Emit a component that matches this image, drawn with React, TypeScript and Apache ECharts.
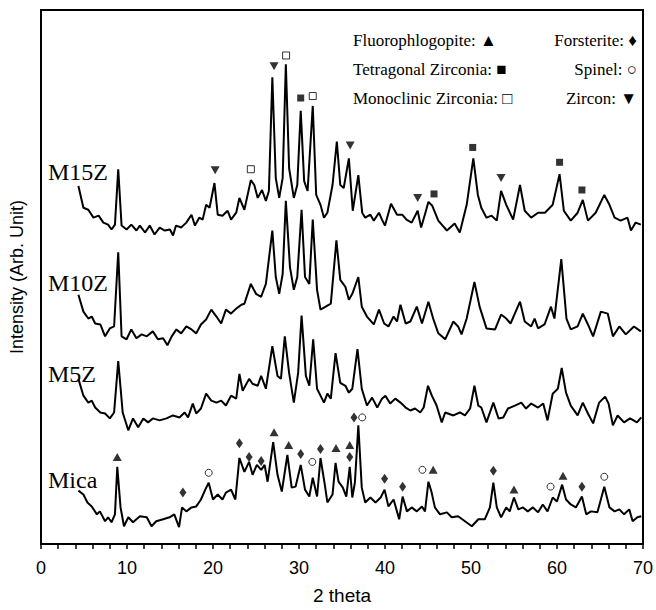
import React, { useEffect, useRef } from "react";
import * as echarts from "echarts";

// 2θ (deg) vs intensity (arbitrary units, curves offset for stacking)
const m15zData: number[][] = [
  [4.35,362],[4.93,340],[5.5,338],[6.1,330],[6.7,332],[7.25,325],[7.8,323],[8.2,318],[8.6,323],[8.98,379],[9.37,322],[9.95,318],[10.5,323],[11.1,317],[11.5,322],[12.1,315],[12.65,322],[13.2,313],[13.8,320],[14.4,317],[15.0,318],[15.35,312],[15.7,322],[16.3,320],[16.9,325],[17.5,333],[17.9,322],[18.4,330],[18.8,328],[19.2,343],[19.6,340],[20.17,365],[20.55,333],[21.1,332],[21.7,337],[22.1,328],[22.7,335],[23.07,350],[23.65,338],[24.4,368],[24.8,363],[25.2,350],[25.7,358],[26.15,347],[26.5,357],[26.9,472],[27.3,370],[27.7,350],[28.1,370],[28.47,485],[28.85,380],[29.4,350],[29.8,363],[30.2,438],[30.6,367],[31.0,357],[31.6,443],[32.0,353],[32.5,343],[32.9,330],[33.3,335],[33.9,363],[34.4,407],[34.8,363],[35.2,360],[35.8,390],[36.25,337],[36.9,373],[37.35,335],[37.7,330],[38.3,333],[38.7,327],[39.3,335],[39.65,328],[40.0,322],[40.7,344],[41.4,333],[42.0,333],[42.5,328],[43.1,325],[43.8,337],[44.2,320],[44.7,335],[45.05,346],[45.5,342],[46.2,327],[46.6,323],[47.2,317],[48.1,324],[48.7,315],[49.5,343],[50.27,390],[50.8,353],[51.2,340],[51.8,330],[52.4,332],[53.0,327],[53.5,357],[54.1,343],[54.9,328],[55.7,363],[56.25,337],[57.0,330],[57.8,335],[58.6,335],[59.5,343],[60.3,374],[60.8,337],[61.6,327],[62.4,335],[63.0,348],[63.6,327],[64.5,335],[65.5,353],[66.1,343],[66.7,330],[67.4,327],[68.2,330],[68.6,317],[69.15,325],[69.75,323]
];

const m10zData: number[][] = [
  [4.35,252],[4.93,235],[5.5,228],[5.9,230],[6.3,223],[6.9,222],[7.45,210],[8.0,218],[8.5,220],[8.98,295],[9.37,210],[9.95,207],[10.5,217],[11.1,208],[11.7,212],[12.3,210],[13.0,215],[13.6,207],[14.2,208],[14.7,201],[15.2,210],[15.75,217],[16.3,213],[16.9,220],[17.5,217],[18.05,213],[18.6,222],[19.2,227],[19.8,237],[20.4,230],[20.95,223],[21.5,237],[22.1,233],[22.7,238],[23.3,242],[23.65,243],[24.4,263],[25.0,253],[25.6,250],[26.15,263],[26.9,317],[27.3,270],[27.7,253],[28.1,273],[28.47,347],[28.95,280],[29.4,257],[29.8,270],[30.3,338],[30.7,270],[31.2,263],[31.6,328],[32.1,257],[32.5,237],[33.1,240],[33.7,243],[34.35,307],[34.8,267],[35.4,260],[35.8,247],[36.2,253],[36.9,270],[37.3,240],[37.9,230],[38.7,222],[39.3,237],[39.9,223],[40.4,220],[41.0,230],[41.4,225],[41.8,242],[42.4,223],[42.95,225],[43.7,240],[44.3,223],[45.05,245],[45.6,228],[46.2,213],[47.0,207],[47.95,225],[48.5,220],[48.9,212],[49.5,228],[50.4,265],[51.0,240],[51.8,218],[52.8,217],[53.5,232],[54.1,228],[54.6,223],[55.7,245],[56.25,225],[57.0,220],[57.4,228],[57.8,218],[58.55,222],[59.3,240],[59.7,228],[60.5,288],[61.1,228],[61.6,217],[62.4,220],[63.0,233],[63.6,222],[64.2,210],[65.1,235],[65.9,233],[66.5,210],[67.25,220],[68.0,212],[68.95,220],[69.75,215]
];

const m5zData: number[][] = [
  [4.35,167],[4.93,150],[5.5,143],[5.9,145],[6.3,138],[6.9,133],[7.45,132],[8.0,127],[8.5,133],[8.98,185],[9.5,133],[10.15,115],[10.7,127],[11.3,118],[11.9,127],[12.45,123],[13.0,127],[13.8,125],[14.6,127],[15.35,130],[16.1,128],[16.7,133],[17.1,128],[17.65,142],[18.05,132],[18.6,137],[19.2,152],[19.8,145],[20.4,143],[20.95,145],[21.5,140],[22.1,150],[22.7,147],[23.07,172],[23.45,155],[24.2,167],[24.6,162],[25.2,160],[25.6,170],[26.15,157],[26.9,200],[27.5,170],[27.9,167],[28.35,210],[28.85,173],[29.4,143],[29.9,173],[30.3,231],[30.8,170],[31.2,160],[31.65,207],[32.1,157],[32.5,150],[32.9,143],[33.3,152],[33.7,147],[34.25,193],[34.8,163],[35.4,160],[35.8,153],[36.2,157],[36.8,197],[37.3,157],[37.9,140],[38.5,148],[39.1,138],[39.65,147],[40.05,150],[40.6,142],[41.2,147],[41.8,143],[42.4,138],[42.95,135],[43.5,137],[44.1,133],[44.5,138],[45.0,160],[45.45,150],[46.0,140],[46.6,123],[47.0,133],[47.95,130],[48.7,133],[49.3,130],[49.9,137],[50.4,160],[50.85,140],[51.2,138],[51.8,123],[52.6,143],[53.2,127],[53.75,128],[54.3,137],[55.1,140],[55.85,143],[56.4,137],[57.0,142],[57.8,138],[58.4,142],[58.9,125],[59.5,152],[60.1,157],[60.55,178],[61.05,153],[61.6,140],[62.4,130],[63.0,143],[63.6,132],[64.2,122],[64.9,143],[65.6,149],[66.0,142],[66.5,120],[67.05,130],[67.8,123],[68.5,127],[69.3,123],[69.8,128]
];

const micaData: number[][] = [
  [4.35,54],[4.93,50],[5.4,42],[5.9,38],[6.5,30],[6.85,33],[7.45,23],[7.8,27],[8.2,22],[8.6,30],[8.87,78],[9.25,37],[9.65,18],[10.15,27],[10.7,22],[11.5,28],[12.3,27],[12.85,18],[13.4,23],[14.2,25],[14.95,27],[15.5,30],[16.05,17],[16.4,37],[16.9,33],[17.5,37],[18.05,38],[18.6,45],[19.1,55],[19.5,62],[20.0,45],[20.55,50],[21.1,45],[21.5,52],[22.1,55],[22.6,45],[23.07,87],[23.65,73],[24.2,83],[24.6,70],[25.1,80],[25.6,75],[26.0,80],[26.35,63],[27.0,103],[27.5,70],[28.0,53],[28.65,90],[29.15,57],[29.6,58],[30.2,80],[30.7,55],[31.2,48],[31.6,67],[32.1,48],[32.5,87],[33.0,60],[33.3,42],[33.9,50],[34.25,82],[34.6,63],[35.1,57],[35.5,48],[35.9,78],[36.2,47],[36.5,62],[36.9,120],[37.3,57],[37.7,42],[38.3,47],[38.9,42],[39.5,47],[39.95,55],[40.4,38],[41.0,45],[41.65,25],[42.05,48],[42.55,33],[43.1,37],[43.7,33],[44.3,38],[44.65,33],[45.05,63],[45.4,53],[45.8,37],[46.4,30],[47.2,32],[47.75,27],[48.5,28],[49.3,23],[50.1,18],[50.85,25],[51.6,25],[52.2,37],[52.6,62],[53.0,37],[53.5,27],[54.1,37],[54.5,33],[55.0,47],[55.5,35],[56.05,37],[56.6,33],[57.2,37],[57.8,32],[58.35,40],[58.9,33],[59.5,47],[60.0,43],[60.6,60],[61.05,45],[61.6,40],[62.2,37],[62.9,48],[63.4,30],[63.95,33],[64.7,32],[65.5,58],[66.1,37],[66.7,33],[67.25,35],[67.8,30],[68.4,35],[68.8,23],[69.35,27],[69.8,28]
];

// phase markers [2θ, height]
const fluorophlogopiteMarks: number[][] = [[8.87,88],[27.1,113],[28.8,100],[34.3,97],[35.9,100],[45.6,75],[55.0,55],[60.7,69]];
const forsteriteMarks: number[][] = [[16.5,52],[23.07,102],[24.2,88],[25.6,84],[30.2,91],[32.5,96],[35.9,88],[36.4,128],[39.95,66],[42.05,58],[52.6,74],[62.9,58]];
const spinelMarks: number[][] = [[19.5,72],[31.55,83],[37.35,128],[44.35,75],[59.25,58],[65.5,68]];
const zirconMarks: number[][] = [[20.25,378],[27.1,483],[35.95,403],[43.8,350],[53.5,370]];
const tetragonalMarks: number[][] = [[30.2,451],[45.7,354],[50.2,401],[60.3,386],[62.9,358]];
const monoclinicMarks: number[][] = [[24.4,379],[28.5,494],[31.6,453]];

const sampleNames = ["M15Z", "M10Z", "M5Z", "Mica"];
const sampleLabelY = [172, 283, 374, 480];

const legendLeft = ["Fluorophlogopite: \u25B2", "Tetragonal Zirconia: \u25A0", "Monoclinic Zirconia: \u25A1"];
const legendRight = ["Forsterite: \u2666", "Spinel: \u25CB", "Zircon: \u25BC"];
const legendRowY = [40, 69, 98];

const xMin = 0, xMax = 70, xStep = 2;

export default function App() {
  const ref = useRef<HTMLDivElement>(null);
  useEffect(() => {
    if (!ref.current) return;
    const chart = echarts.init(ref.current, null, { renderer: "svg" });
    const lineSeries = (name: string, data: number[][]) => ({
      name, type: "line", data, showSymbol: false, symbol: "none",
      lineStyle: { color: "#000", width: 2 }, z: 2, silent: true,
    });
    const markSeries = (name: string, data: number[][], symbol: string, size: any, fill: string, rotate = 0) => ({
      name, type: "scatter", data, symbol, symbolSize: size, symbolRotate: rotate,
      itemStyle: { color: fill, borderColor: "#000", borderWidth: fill === "#fff" ? 1 : 0 },
      z: 5, silent: true,
    });
    const serif = "'Liberation Serif', 'Times New Roman', serif";
    const sans = "'Liberation Sans', Arial, sans-serif";
    const graphics: any[] = [];
    sampleNames.forEach((n, i) => {
      graphics.push({ type: "text", x: 48, y: sampleLabelY[i], style: { text: n, font: `24px ${serif}`, fill: "#000", verticalAlign: "middle" } });
    });
    legendLeft.forEach((t, i) => {
      graphics.push({ type: "text", x: 353, y: legendRowY[i], style: { text: t, font: `17px ${serif}`, fill: "#000", verticalAlign: "middle", align: "left" } });
    });
    legendRight.forEach((t, i) => {
      graphics.push({ type: "text", x: 637, y: legendRowY[i], style: { text: t, font: `17px ${serif}`, fill: "#000", verticalAlign: "middle", align: "right" } });
    });
    chart.setOption({
      animation: false,
      backgroundColor: "#fff",
      grid: { left: 40, right: 12, top: 10, bottom: 60, show: true, borderColor: "#000", borderWidth: 2, backgroundColor: "transparent" },
      xAxis: {
        type: "value", min: xMin, max: xMax, interval: xStep,
        name: "2 theta", nameLocation: "middle", nameGap: 42,
        nameTextStyle: { fontFamily: sans, fontSize: 19, color: "#000" },
        axisLine: { show: true, lineStyle: { color: "#000", width: 2 } },
        axisTick: { show: true, inside: false, length: 5, lineStyle: { color: "#000", width: 1.5 } },
        axisLabel: {
          margin: 15, fontFamily: sans, fontSize: 18, color: "#000",
          formatter: (v: number) => (v % 10 === 0 ? String(v) : ""),
        },
        splitLine: { show: false },
      },
      yAxis: {
        type: "value", min: 0, max: 540,
        name: "Intensity (Arb. Unit)", nameLocation: "middle", nameGap: 15,
        nameTextStyle: { fontFamily: sans, fontSize: 18, color: "#000" },
        axisLine: { show: true, lineStyle: { color: "#000", width: 2 } },
        axisTick: { show: false }, axisLabel: { show: false }, splitLine: { show: false },
      },
      graphic: graphics,
      series: [
        lineSeries("M15Z", m15zData),
        lineSeries("M10Z", m10zData),
        lineSeries("M5Z", m5zData),
        lineSeries("Mica", micaData),
        markSeries("Fluorophlogopite", fluorophlogopiteMarks, "triangle", [9, 8], "#000"),
        markSeries("Forsterite", forsteriteMarks, "diamond", [7, 10], "#000"),
        markSeries("Spinel", spinelMarks, "circle", 7, "#fff"),
        markSeries("Zircon", zirconMarks, "triangle", [9, 8], "#000", 180),
        markSeries("Tetragonal Zirconia", tetragonalMarks, "rect", 7, "#000"),
        markSeries("Monoclinic Zirconia", monoclinicMarks, "rect", 7, "#fff"),
      ],
    });
    return () => chart.dispose();
  }, []);
  return <div ref={ref} style={{ position: "absolute", left: 0, top: 0, width: 656, height: 610 }} />;
}
